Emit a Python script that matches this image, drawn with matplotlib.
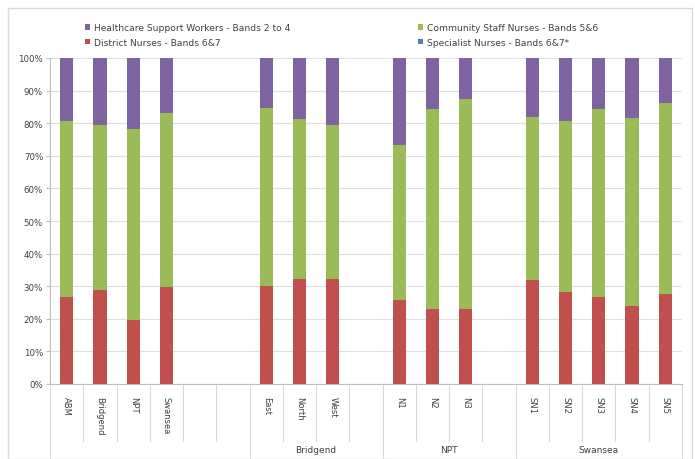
import matplotlib
matplotlib.use("Agg")
import matplotlib.pyplot as plt
from matplotlib.transforms import blended_transform_factory
from matplotlib.patches import Rectangle

# categories (blank slots are empty strings)
cats = ["ABM", "Bridgend", "NPT", "Swansea", "", "",
        "East", "North", "West", "",
        "N1", "N2", "N3", "",
        "SN1", "SN2", "SN3", "SN4", "SN5"]
groups = ["", "Bridgend", "NPT", "Swansea"]
group_edges = [-0.5, 5.5, 9.5, 13.5, 18.5]

# percentages (None = empty slot)
district = [26.7, 28.8, 19.6, 29.8, None, None,
            30.0, 32.2, 32.2, None,
            25.8, 23.0, 23.0, None,
            31.9, 28.2, 26.7, 23.9, 27.6]
community = [54.0, 50.6, 58.6, 53.3, None, None,
             54.7, 49.1, 47.2, None,
             47.5, 61.4, 64.4, None,
             50.0, 52.5, 57.7, 57.7, 58.6]
specialist = [0.0, 0.0, 0.0, 0.0, None, None,
              0.0, 0.0, 0.0, None,
              0.0, 0.0, 0.0, None,
              0.0, 0.0, 0.0, 0.0, 0.0]

purple = "#8064A2"
green = "#9BBB59"
red = "#C0504D"
blue = "#4F81BD"

x, d, c, s, h = [], [], [], [], []
for i in range(len(cats)):
    if district[i] is None:
        continue
    x.append(i)
    d.append(district[i])
    c.append(community[i])
    s.append(specialist[i])
    h.append(100 - district[i] - community[i] - specialist[i])

fig = plt.figure(figsize=(6.95, 4.60), dpi=100)
fig.patches.append(Rectangle((8 / 695, 0), 684 / 695, 451 / 460, transform=fig.transFigure,
                             fill=False, edgecolor="#d9d9d9", linewidth=1))
ax = fig.add_axes([50 / 695, 75 / 460, 632 / 695, 326 / 460])

w = 0.4
b1 = ax.bar(x, d, width=w, color=red, label="District Nurses - Bands 6&7", zorder=3)
bottom = d
b2 = ax.bar(x, s, width=w, bottom=bottom, color=blue, label="Specialist Nurses - Bands 6&7*", zorder=3)
bottom = [a + b for a, b in zip(bottom, s)]
b3 = ax.bar(x, c, width=w, bottom=bottom, color=green, label="Community Staff Nurses - Bands 5&6", zorder=3)
bottom = [a + b for a, b in zip(bottom, c)]
b4 = ax.bar(x, h, width=w, bottom=bottom, color=purple, label="Healthcare Support Workers - Bands 2 to 4", zorder=3)

ax.set_xlim(-0.5, len(cats) - 0.5)
ax.set_ylim(0, 100)
ax.set_yticks(range(0, 101, 10))
ax.set_yticklabels([f"{v}%" for v in range(0, 101, 10)], fontsize=6.2, color="#404040")
ax.yaxis.grid(True, color="#e0e0e0", linewidth=0.8, zorder=0)
ax.set_xticks([])
ax.tick_params(axis="y", length=3, color="#bfbfbf", pad=2)
for sp in ["top", "right"]:
    ax.spines[sp].set_visible(False)
ax.spines["left"].set_color("#bfbfbf")
ax.spines["bottom"].set_color("#bfbfbf")

trans = blended_transform_factory(ax.transData, ax.transAxes)
fy = 326  # axes height in pixels
row1 = -57 / fy
row2 = -80 / fy
for i, name in enumerate(cats):
    if name:
        ax.text(i, -12 / fy, name, rotation=270, ha="center", va="top",
                fontsize=6, color="#404040", transform=trans)
for k in range(len(cats) + 1):
    edge = k - 0.5
    yb = row2 if edge in group_edges else row1
    ax.plot([edge, edge], [0, yb], color="#d9d9d9", linewidth=0.8,
            transform=trans, clip_on=False)
for gi, g in enumerate(groups):
    if g:
        mid = (group_edges[gi] + group_edges[gi + 1]) / 2
        ax.text(mid, -66 / fy, g, ha="center", va="center", fontsize=6.5,
                color="#404040", transform=trans)

handles = [b4, b1, b3, b2]
labels = [hh.get_label() for hh in handles]
fig.legend(handles, labels, ncol=2, loc="upper left", bbox_to_anchor=(77 / 695, 1 - 16 / 460),
           frameon=False, fontsize=6.6, handlelength=0.5, handleheight=0.5,
           columnspacing=14, labelspacing=0.6, handletextpad=0.4, labelcolor="#404040")

fig.savefig("out.png", dpi=100)
